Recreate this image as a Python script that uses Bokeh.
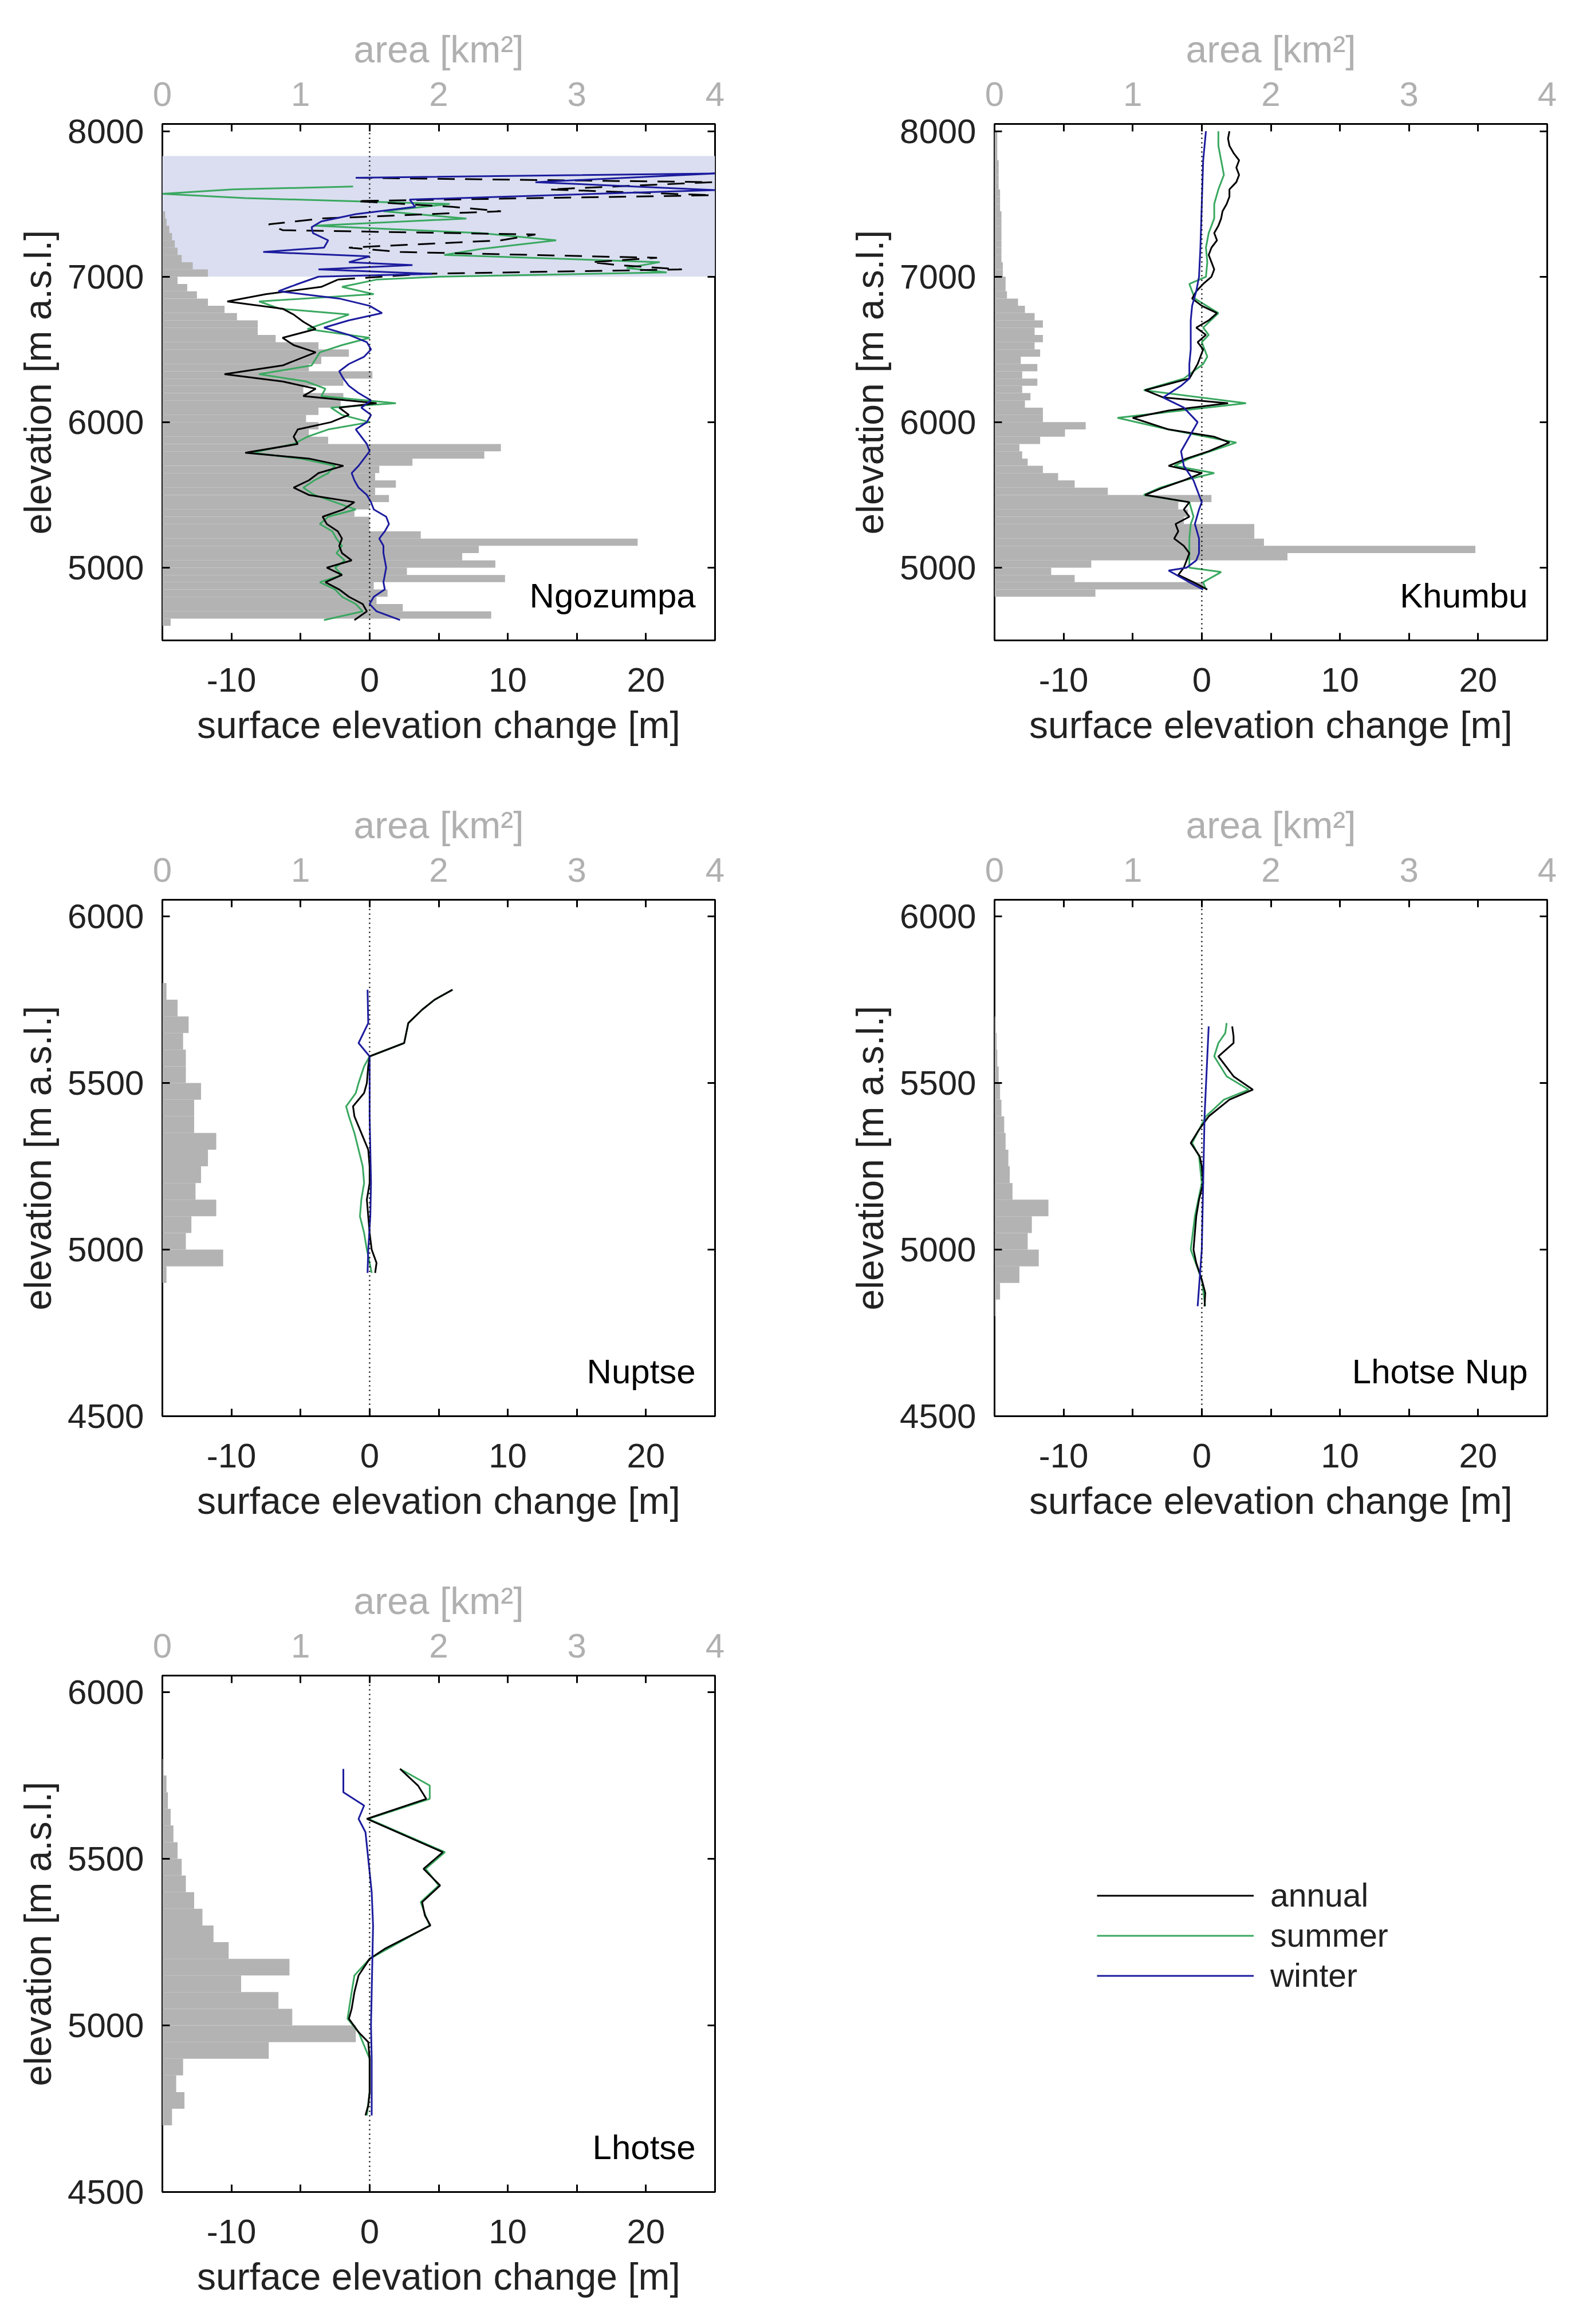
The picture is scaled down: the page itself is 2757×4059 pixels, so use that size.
from bokeh.plotting import figure
from bokeh.models import (Range1d, LinearAxis, FixedTicker, Span, Label,
                          Legend, LegendItem, ColumnDataSource)
from bokeh.layouts import column, row
from bokeh.embed import file_html
from bokeh.resources import INLINE

FONT = "Liberation Sans"
C_ANN = "#000000"
C_SUM = "#3aa860"
C_WIN = "#1c1c9e"
C_HIST = "#b3b3b3"
C_AREA = "#b0b0b0"
C_BOX = "#dadef0"
C_TXT = "#222222"

BIN_WIDTH = 50  # m, hypsometry bins

# ---------------- Ngozumpa ----------------
ngo_bin_start = 4600
ngo_area = [0.06, 2.38, 1.74, 1.55, 1.63, 1.53, 2.48, 1.77, 2.41, 2.17,
            2.29, 3.44, 1.87, 1.50, 1.50, 1.39, 1.50, 1.64, 1.54, 1.69,
            1.54, 1.57, 1.81, 2.33, 2.45, 1.20, 1.06, 1.13, 1.04, 1.13,
            1.29, 1.31, 1.02, 1.31, 1.52, 1.06, 1.15, 1.35, 1.13, 0.82,
            0.69, 0.69, 0.54, 0.45, 0.33, 0.25, 0.18, 0.11, 0.33, 0.22,
            0.14, 0.11, 0.09, 0.07, 0.05, 0.03, 0.02]
ngo_box = (7000, 7830)  # elevation band covered by image overlay

ngo_ann_elev = [4640, 4700, 4750, 4800, 4850, 4900, 4950, 5000, 5050, 5100,
                5150, 5200, 5250, 5300, 5350, 5400, 5450, 5500, 5550, 5600,
                5650, 5700, 5750, 5790, 5850, 5900, 5950, 6000, 6050, 6100,
                6130, 6180, 6230, 6280, 6330, 6390, 6480, 6530, 6580, 6640,
                6690, 6740, 6780, 6830, 6880, 6930, 6980]
ngo_ann_dh = [-1.1, -0.2, -0.5, -1.5, -2.2, -3.2, -2.0, -3.1, -1.3, -2.0,
              -2.2, -2.0, -2.3, -3.1, -3.4, -1.9, -1.1, -4.4, -5.5, -4.4,
              -3.7, -1.9, -4.4, -9.0, -5.2, -5.5, -5.2, -2.8, -1.5, -2.2,
              0.5, -4.8, -3.9, -6.3, -10.5, -6.3, -3.9, -5.5, -6.3, -3.9,
              -4.8, -5.5, -6.3, -10.3, -7.5, -3.5, -2.3]
ngo_ann_hi_elev = [6980, 7020, 7050, 7080, 7100, 7130, 7170, 7200, 7250, 7290,
                   7320, 7360, 7400, 7450, 7480, 7520, 7560, 7600, 7650, 7680]
ngo_ann_hi_dh = [-2.3, 4.0, 22.6, 18.0, 16.0, 20.8, 2.2, -1.5, 9.5, 12.0,
                 -6.3, -7.3, -3.5, 9.5, 6.0, -1.0, 24.8, 13.0, 24.8, -1.0]

ngo_sum_elev = [4640, 4700, 4750, 4800, 4850, 4900, 4950, 5000, 5050, 5100,
                5150, 5200, 5250, 5300, 5350, 5400, 5450, 5500, 5550, 5600,
                5650, 5700, 5750, 5790, 5850, 5900, 5950, 6000, 6050, 6100,
                6130, 6180, 6230, 6280, 6330, 6390, 6480, 6530, 6580, 6640,
                6690, 6740, 6780, 6830, 6880, 6930, 6980, 7000, 7030, 7060,
                7100, 7150, 7190, 7250, 7300, 7350, 7400, 7450, 7500, 7540,
                7570, 7600, 7620]
ngo_sum_dh = [-3.3, -0.5, -1.0, -2.0, -2.5, -3.6, -2.0, -2.5, -1.8, -2.4,
              -2.0, -2.4, -2.7, -3.6, -3.0, -1.0, -2.5, -4.0, -4.8, -4.0,
              -3.0, -2.5, -5.0, -8.5, -5.5, -4.5, -3.0, 0.0, -2.0, -2.8,
              1.9, -3.5, -3.2, -4.6, -8.0, -4.2, -3.6, -2.0, 0.0, -4.5,
              -3.0, -1.5, -6.5, -8.0, 0.3, -2.0, 0.5, 5.1, 21.5, 18.6,
              21.0, 5.4, 8.0, 13.5, 8.0, -4.0, 7.0, 1.0, 5.8, -9.0,
              -15.0, -9.9, -1.2]

ngo_win_elev = [4640, 4700, 4750, 4800, 4850, 4900, 4950, 5000, 5050, 5100,
                5150, 5200, 5250, 5300, 5350, 5400, 5450, 5500, 5550, 5600,
                5650, 5700, 5750, 5800, 5850, 5900, 5950, 6000, 6050, 6100,
                6150, 6200, 6250, 6300, 6350, 6400, 6450, 6500, 6550, 6600,
                6650, 6700, 6750, 6800, 6850, 6900, 6950, 7000, 7020, 7050,
                7080, 7100, 7140, 7170, 7200, 7250, 7300, 7340, 7380, 7430,
                7480, 7530, 7595, 7650, 7710, 7680]
ngo_win_dh = [2.2, 0.5, 0.0, 0.3, 1.1, 1.0, 1.1, 1.2, 1.1, 1.0,
              1.0, 0.7, 1.1, 1.4, 1.2, 0.3, 0.1, -0.2, -0.8, -1.1,
              -1.3, -0.8, -0.4, 0.0, -0.2, -0.6, -1.0, -0.2, 0.1, -0.6,
              0.1, -0.8, -1.5, -1.9, -2.2, -1.5, -0.4, 0.1, -0.2, -1.5,
              -3.3, -1.5, 0.9, 0.0, -2.2, -6.6, -5.2, -3.7, 4.5, -3.7,
              3.1, -1.5, 0.0, -7.7, -3.3, -3.0, -4.1, -4.2, -3.5, -1.0,
              3.3, 2.9, 25.0, 12.0, 25.0, -1.0]

# ---------------- Khumbu ----------------
khu_bin_start = 4800
khu_area = [0.73, 1.51, 0.58, 0.41, 0.70, 2.12, 3.48, 1.95, 1.88, 1.88,
            1.37, 1.40, 1.33, 1.57, 0.82, 0.58, 0.46, 0.35, 0.24, 0.20,
            0.18, 0.33, 0.51, 0.66, 0.35, 0.35, 0.22, 0.26, 0.20, 0.31,
            0.20, 0.31, 0.19, 0.33, 0.29, 0.35, 0.29, 0.35, 0.29, 0.22,
            0.17, 0.09, 0.08, 0.08, 0.06, 0.06, 0.05, 0.05, 0.05, 0.05,
            0.05, 0.05, 0.05, 0.04, 0.04, 0.04, 0.03, 0.03, 0.03, 0.03,
            0.02, 0.02, 0.02, 0.02]

khu_ann_elev = [4850, 4900, 4950, 5000, 5050, 5100, 5150, 5200, 5250, 5300,
                5350, 5400, 5450, 5500, 5550, 5600, 5650, 5700, 5750, 5800,
                5860, 5900, 5950, 6030, 6080, 6130, 6170, 6220, 6300, 6400,
                6450, 6500, 6550, 6600, 6650, 6700, 6750, 6800, 6850, 6900,
                6950, 7000, 7050, 7100, 7150, 7200, 7250, 7300, 7350, 7400,
                7450, 7500, 7550, 7600, 7650, 7700, 7750, 7800, 7850, 7900,
                7950, 8000]
khu_ann_dh = [0.4, -0.6, -1.7, -1.3, -1.1, -0.9, -1.3, -2.0, -1.7, -1.9,
              -0.9, -1.3, -0.9, -4.1, -2.8, -1.3, 0.0, -2.4, -1.1, 0.5,
              2.0, 0.9, -2.4, -5.0, -2.4, 1.9, -2.8, -4.1, -0.9, -0.3,
              -0.1, 0.1, -0.3, 0.3, -0.4, 0.5, 1.1, 0.0, -0.7, -0.4,
              0.1, 0.7, 0.9, 0.7, 0.5, 0.7, 1.1, 0.9, 1.2, 1.4,
              1.5, 1.8, 2.0, 2.0, 2.5, 2.7, 2.5, 2.7, 2.3, 2.0,
              1.9, 2.0]

khu_sum_elev = [4850, 4900, 4970, 5000, 5100, 5200, 5300, 5350, 5450, 5500,
                5550, 5600, 5650, 5700, 5750, 5860, 5950, 6030, 6130, 6220,
                6300, 6400, 6450, 6500, 6550, 6600, 6650, 6750, 6850, 6950,
                7000, 7100, 7200, 7300, 7400, 7500, 7600, 7700, 7800, 7900,
                8000]
khu_sum_dh = [0.3, 0.1, 1.4, -0.9, -0.9, -0.9, -0.8, -0.6, -0.9, -4.2,
              -3.0, -1.3, 0.9, -2.0, -0.9, 2.5, -2.4, -6.1, 3.2, -4.2,
              -1.3, 0.1, 0.4, 0.2, 0.0, 0.5, 0.1, 1.2, -0.5, -0.9,
              0.3, 0.4, 0.3, 0.5, 0.9, 0.9, 1.2, 1.6, 1.4, 1.2,
              1.2]

khu_win_elev = [4850, 4900, 4980, 5000, 5050, 5100, 5200, 5300, 5400, 5450,
                5500, 5600, 5700, 5800, 5900, 6000, 6100, 6170, 6250, 6300,
                6400, 6500, 6600, 6700, 6800, 6900, 7000, 7200, 7500, 7800,
                8000]
khu_win_dh = [0.1, -0.9, -2.4, -1.1, -0.4, -0.2, -0.2, -0.5, -0.2, 0.0,
              -0.2, -0.6, -1.3, -1.5, -0.9, -0.3, -1.3, -2.8, -1.5, -0.9,
              -0.9, -0.8, -0.8, -0.8, -0.7, -0.4, -0.2, -0.1, 0.0, 0.1,
              0.3]

# ---------------- Nuptse ----------------
nup_bin_start = 4900
nup_area = [0.03, 0.44, 0.17, 0.21, 0.39, 0.24, 0.28, 0.33, 0.39, 0.23,
            0.23, 0.28, 0.17, 0.17, 0.15, 0.19, 0.11, 0.03]

nup_ann_elev = [4930, 4960, 5000, 5050, 5100, 5150, 5200, 5250, 5300, 5350,
                5400, 5430, 5470, 5500, 5550, 5580, 5620, 5680, 5720, 5750,
                5780]
nup_ann_dh = [0.4, 0.5, 0.15, 0.0, -0.1, -0.2, 0.0, 0.0, -0.1, -0.6,
              -1.1, -1.2, -0.4, -0.2, -0.1, 0.0, 2.5, 2.8, 3.8, 4.7,
              6.0]
nup_sum_elev = nup_ann_elev
nup_sum_dh = [0.15, 0.0, -0.2, -0.4, -0.7, -0.6, -0.4, -0.5, -0.8, -1.1,
              -1.5, -1.7, -1.0, -0.8, -0.4, 0.0, 2.5, 2.8, 3.8, 4.7,
              6.0]
nup_win_elev = [4930, 5000, 5100, 5200, 5300, 5400, 5500, 5580, 5620, 5680,
                5780]
nup_win_dh = [-0.15, -0.1, 0.05, 0.1, 0.05, 0.0, 0.0, 0.0, -0.8, -0.1,
              -0.15]

# ---------------- Lhotse Nup ----------------
lnu_bin_start = 4800
lnu_area = [0.01, 0.04, 0.18, 0.32, 0.24, 0.27, 0.39, 0.13, 0.11, 0.10,
            0.08, 0.07, 0.05, 0.04, 0.03, 0.02, 0.015, 0.01]

lnu_ann_elev = [4830, 4870, 4910, 4960, 5000, 5050, 5100, 5150, 5200, 5250,
                5280, 5320, 5360, 5400, 5450, 5480, 5520, 5580, 5620, 5640,
                5670]
lnu_ann_dh = [0.2, 0.25, 0.0, -0.4, -0.6, -0.5, -0.4, -0.2, 0.1, 0.0,
              -0.15, -0.8, -0.2, 0.5, 2.0, 3.7, 2.3, 1.2, 2.3, 2.3,
              2.2]
lnu_sum_elev = [4830, 4910, 5000, 5100, 5200, 5280, 5320, 5400, 5450, 5480,
                5520, 5580, 5620, 5650, 5680]
lnu_sum_dh = [0.25, 0.0, -0.8, -0.5, 0.0, -0.2, -0.7, 0.3, 1.6, 3.4,
              1.8, 0.9, 1.2, 1.7, 1.8]
lnu_win_elev = [4830, 5000, 5200, 5400, 5670]
lnu_win_dh = [-0.3, 0.0, 0.1, 0.2, 0.5]

# ---------------- Lhotse ----------------
lho_bin_start = 4700
lho_area = [0.07, 0.16, 0.10, 0.15, 0.77, 1.40, 0.94, 0.84, 0.57, 0.92,
            0.48, 0.37, 0.29, 0.23, 0.17, 0.14, 0.11, 0.08, 0.06, 0.04,
            0.03, 0.01]

lho_ann_elev = [4730, 4760, 4800, 4850, 4900, 4950, 4980, 5020, 5050, 5100,
                5150, 5200, 5230, 5300, 5330, 5370, 5420, 5470, 5520, 5620,
                5680, 5720, 5770]
lho_ann_dh = [-0.3, -0.1, 0.0, 0.0, 0.0, -0.1, -0.8, -1.5, -1.3, -1.1,
              -0.8, 0.0, 1.1, 4.4, 4.0, 3.8, 5.1, 3.9, 5.3, -0.2,
              4.1, 3.5, 2.2]
lho_sum_elev = [4730, 4800, 4900, 4980, 5020, 5100, 5150, 5200, 5300, 5330,
                5370, 5420, 5470, 5520, 5620, 5680, 5720, 5770]
lho_sum_dh = [-0.2, 0.0, 0.0, -0.8, -1.6, -1.3, -1.1, 0.0, 4.35, 4.05,
              3.7, 5.0, 4.05, 5.45, -0.1, 4.35, 4.35, 2.2]
lho_win_elev = [4730, 4800, 4900, 5000, 5100, 5200, 5300, 5400, 5500, 5580,
                5620, 5660, 5700, 5770]
lho_win_dh = [0.15, 0.15, 0.15, 0.1, 0.15, 0.2, 0.25, 0.15, -0.1, -0.3,
              -0.8, -0.4, -1.9, -1.9]

X_TICKS = [-10, 0, 10, 20]
X_LABELS = {-10: "-10", 0: "0", 10: "10", 20: "20"}
X_MINOR = [-5, 5, 15]
AREA_TICKS = [0, 1, 2, 3, 4]
AREA_MINOR = [0.5, 1.5, 2.5, 3.5]
UPPER_YTICKS = [5000, 6000, 7000, 8000]
LOWER_YTICKS = [4500, 5000, 5500, 6000]
SERIES_NAMES = ["annual", "summer", "winter"]

LW = 3


def style_axis(ax, label_color=C_TXT):
    ax.axis_line_color = None
    ax.major_tick_in = 13
    ax.major_tick_out = 0
    ax.minor_tick_in = 13
    ax.minor_tick_out = 0
    ax.major_tick_line_color = "black"
    ax.minor_tick_line_color = "black"
    ax.major_tick_line_width = 3
    ax.minor_tick_line_width = 3
    ax.major_label_text_font = FONT
    ax.major_label_text_font_size = "60px"
    ax.major_label_text_color = label_color
    ax.axis_label_text_font = FONT
    ax.axis_label_text_font_size = "66px"
    ax.axis_label_text_font_style = "normal"
    ax.axis_label_text_color = label_color


def make_panel(name, y0, y1, yticks, hist_start, areas, lines, width, height,
               border_right, border_bottom, box=None):
    p = figure(width=width, height=height,
               x_range=Range1d(-15, 25), y_range=Range1d(y0, y1),
               output_backend="svg", toolbar_location=None,
               min_border_left=283, min_border_right=border_right,
               min_border_top=216, min_border_bottom=border_bottom)
    p.extra_x_ranges = {"area": Range1d(0, 4)}
    p.grid.visible = False
    p.outline_line_color = "black"
    p.outline_line_width = 3
    p.background_fill_color = "white"
    p.border_fill_color = "white"

    if box is not None:
        p.quad(left=[-15], right=[25], bottom=[box[0]], top=[box[1]],
               fill_color=C_BOX, line_color=None)

    bottoms = [hist_start + i * BIN_WIDTH for i in range(len(areas))]
    src = ColumnDataSource(dict(left=[0] * len(areas), right=areas,
                                bottom=bottoms,
                                top=[b + BIN_WIDTH for b in bottoms]))
    p.quad(left="left", right="right", bottom="bottom", top="top",
           source=src, x_range_name="area", fill_color=C_HIST,
           line_color=None)

    for xs, ys, color, dash in lines:
        p.line(xs, ys, line_color=color, line_width=LW, line_dash=dash)

    p.add_layout(Span(location=0, dimension="height", line_color="black",
                      line_dash="2 6", line_width=2.5))

    xa = p.xaxis[0]
    xa.ticker = FixedTicker(ticks=X_TICKS, minor_ticks=X_MINOR)
    xa.major_label_overrides = X_LABELS
    xa.axis_label = "surface elevation change [m]"
    style_axis(xa)
    xa.major_label_standoff = 48
    xa.axis_label_standoff = 18

    ya = p.yaxis[0]
    ya.ticker = FixedTicker(ticks=yticks)
    ya.axis_label = "elevation [m a.s.l.]"
    style_axis(ya)
    ya.major_label_standoff = 32
    ya.axis_label_standoff = 12

    top = LinearAxis(x_range_name="area",
                     ticker=FixedTicker(ticks=AREA_TICKS, minor_ticks=AREA_MINOR),
                     axis_label="area [km²]")
    style_axis(top, C_AREA)
    top.major_label_standoff = 32
    top.axis_label_standoff = 18
    p.add_layout(top, "above")

    right = LinearAxis(ticker=FixedTicker(ticks=yticks))
    style_axis(right)
    right.major_label_text_color = None
    right.major_label_text_font_size = "10px"
    right.major_label_standoff = 0
    p.add_layout(right, "right")

    p.add_layout(Label(x=23.6, y=y0 + 0.086 * (y1 - y0), text=name,
                       text_align="right", text_baseline="middle",
                       text_font=FONT, text_font_size="60px",
                       text_color="black"))
    return p


W_L, W_R = 1453, 1288
H_ROW, H_LAST = 1355, 1318

p1 = make_panel("Ngozumpa", 4500, 8050, UPPER_YTICKS, ngo_bin_start, ngo_area,
                [(ngo_sum_dh, ngo_sum_elev, C_SUM, "solid"),
                 (ngo_ann_dh, ngo_ann_elev, C_ANN, "solid"),
                 (ngo_ann_hi_dh, ngo_ann_hi_elev, C_ANN, "30 18"),
                 (ngo_win_dh, ngo_win_elev, C_WIN, "solid")],
                W_L, H_ROW, W_L - 283 - 965, H_ROW - 216 - 902, box=ngo_box)
p2 = make_panel("Khumbu", 4500, 8050, UPPER_YTICKS, khu_bin_start, khu_area,
                [(khu_sum_dh, khu_sum_elev, C_SUM, "solid"),
                 (khu_ann_dh, khu_ann_elev, C_ANN, "solid"),
                 (khu_win_dh, khu_win_elev, C_WIN, "solid")],
                W_R, H_ROW, W_R - 283 - 965, H_ROW - 216 - 902)
p3 = make_panel("Nuptse", 4500, 6050, LOWER_YTICKS, nup_bin_start, nup_area,
                [(nup_sum_dh, nup_sum_elev, C_SUM, "solid"),
                 (nup_ann_dh, nup_ann_elev, C_ANN, "solid"),
                 (nup_win_dh, nup_win_elev, C_WIN, "solid")],
                W_L, H_ROW, W_L - 283 - 965, H_ROW - 216 - 902)
p4 = make_panel("Lhotse Nup", 4500, 6050, LOWER_YTICKS, lnu_bin_start, lnu_area,
                [(lnu_sum_dh, lnu_sum_elev, C_SUM, "solid"),
                 (lnu_ann_dh, lnu_ann_elev, C_ANN, "solid"),
                 (lnu_win_dh, lnu_win_elev, C_WIN, "solid")],
                W_R, H_ROW, W_R - 283 - 965, H_ROW - 216 - 902)
p5 = make_panel("Lhotse", 4500, 6050, LOWER_YTICKS, lho_bin_start, lho_area,
                [(lho_sum_dh, lho_sum_elev, C_SUM, "solid"),
                 (lho_ann_dh, lho_ann_elev, C_ANN, "solid"),
                 (lho_win_dh, lho_win_elev, C_WIN, "solid")],
                W_L, H_LAST, W_L - 283 - 965, H_LAST - 216 - 902)

# legend panel: the Lhotse series again, but outside this panel's view range,
# so only their legend entries are visible
p6 = figure(width=W_R, height=H_LAST, output_backend="svg",
            toolbar_location=None, x_axis_type=None, y_axis_type=None,
            x_range=Range1d(-15, 25), y_range=Range1d(0, 1),
            min_border=0)
p6.outline_line_color = None
p6.background_fill_color = "white"
p6.border_fill_color = "white"
r_ann = p6.line(lho_ann_dh, lho_ann_elev, line_color=C_ANN, line_width=3)
r_sum = p6.line(lho_sum_dh, lho_sum_elev, line_color=C_SUM, line_width=3)
r_win = p6.line(lho_win_dh, lho_win_elev, line_color=C_WIN, line_width=3)
legend = Legend(items=[LegendItem(label=SERIES_NAMES[0], renderers=[r_ann]),
                       LegendItem(label=SERIES_NAMES[1], renderers=[r_sum]),
                       LegendItem(label=SERIES_NAMES[2], renderers=[r_win])],
                location=(462, 345))
legend.margin = 0
legend.padding = 0
legend.border_line_color = None
legend.background_fill_alpha = 0
legend.glyph_width = 274
legend.glyph_height = 57
legend.label_height = 57
legend.label_standoff = 29
legend.spacing = 4
legend.label_text_font = FONT
legend.label_text_font_size = "57px"
legend.label_text_color = C_TXT
p6.add_layout(legend)

layout = column(row(p1, p2), row(p3, p4), row(p5, p6))

open("out.html", "w").write(file_html(layout, INLINE))
